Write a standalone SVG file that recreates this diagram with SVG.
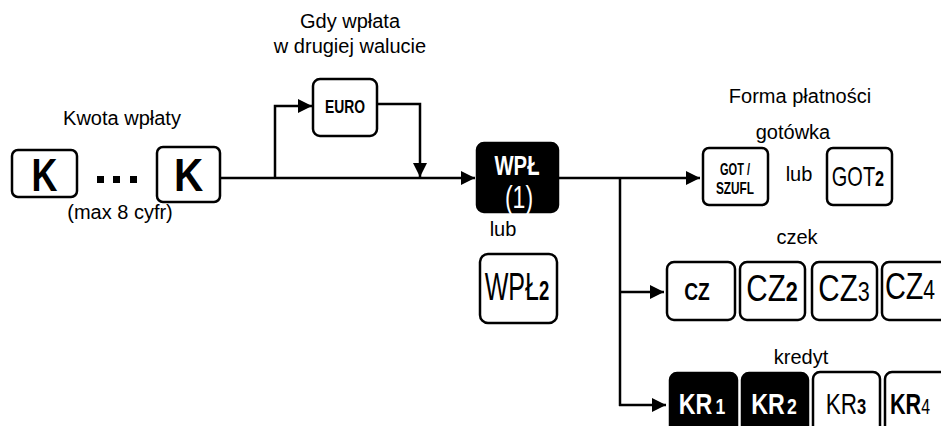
<svg xmlns="http://www.w3.org/2000/svg" width="941" height="426" viewBox="0 0 941 426">
<defs>
<marker id="ah" viewBox="0 0 10 10" refX="10" refY="5" markerWidth="18" markerHeight="14" markerUnits="userSpaceOnUse" orient="auto">
<path d="M0,0 L10,5 L0,10 z" fill="#000"/>
</marker>
<style>
.lbl{font-family:"Liberation Sans",Arial,sans-serif;font-size:20px;fill:#000;text-anchor:middle}
.key{fill:#fff;stroke:#000;stroke-width:2.5}
.keyb{fill:#000;stroke:#000;stroke-width:2.5}
.kt{font-family:"Liberation Sans",Arial,sans-serif;fill:#000;text-anchor:middle}
.kw{font-family:"Liberation Sans",Arial,sans-serif;fill:#fff;text-anchor:middle}
.ln{fill:none;stroke:#000;stroke-width:2.5}
</style>
</defs>
<rect width="941" height="426" fill="#fff"/>

<g id="labels">
<text class="lbl" x="122" y="125">Kwota wpłaty</text>
<text class="lbl" x="120" y="219">(max 8 cyfr)</text>
<text class="lbl" x="350" y="28">Gdy wpłata</text>
<text class="lbl" x="350" y="53">w drugiej walucie</text>
<text class="lbl" x="503" y="236">lub</text>
<text class="lbl" x="800" y="103">Forma płatności</text>
<text class="lbl" x="793" y="139">gotówka</text>
<text class="lbl" x="799" y="181">lub</text>
<text class="lbl" x="797" y="244">czek</text>
<text class="lbl" x="801" y="364">kredyt</text>
</g>

<g id="connectors">
<path class="ln" d="M220,178 H475" marker-end="url(#ah)"/>
<path class="ln" d="M275,179 V106 H312" marker-end="url(#ah)"/>
<path class="ln" d="M377,104 H420 V177" marker-end="url(#ah)"/>
<path class="ln" d="M558,178 H700" marker-end="url(#ah)"/>
<path class="ln" d="M620,177 V406"/>
<path class="ln" d="M619,292 H664" marker-end="url(#ah)"/>
<path class="ln" d="M619,405 H666" marker-end="url(#ah)"/>
</g>

<g id="k1">
<rect class="key" x="12" y="150" width="65" height="47" rx="6"/>
<text class="kt" transform="translate(44.5,191) scale(0.78,1)" font-size="46" font-weight="bold">K</text>
</g>
<g id="dots">
<rect x="97" y="176" width="7" height="7" fill="#000"/>
<rect x="113" y="176" width="7" height="7" fill="#000"/>
<rect x="130" y="176" width="7" height="7" fill="#000"/>
</g>
<g id="k2">
<rect class="key" x="157" y="147" width="63" height="55" rx="6"/>
<text class="kt" transform="translate(188.5,191) scale(0.88,1)" font-size="46" font-weight="bold">K</text>
</g>

<g id="euro">
<rect class="key" x="313" y="79" width="64" height="57" rx="7" stroke-width="2"/>
<text class="kt" transform="translate(345,113) scale(0.77,1)" font-size="18" font-weight="bold">EURO</text>
</g>

<g id="wpl1">
<rect class="keyb" x="477" y="143" width="81" height="69" rx="7"/>
<text class="kw" transform="translate(517,175) scale(0.75,1)" font-size="27" font-weight="bold">WPŁ</text>
<text class="kw" transform="translate(519,208) scale(0.72,1)" font-size="32">(1)</text>
</g>

<g id="wpl2">
<rect class="key" x="480" y="254" width="77" height="69" rx="8"/>
<text class="kt" transform="translate(517,300) scale(0.66,1)" font-size="38">WPŁ<tspan font-size="28" font-weight="bold">2</tspan></text>
</g>

<g id="gotszufl">
<rect class="key" x="703" y="148" width="65" height="57" rx="6" stroke-width="2"/>
<text class="kt" transform="translate(735,175) scale(0.69,1)" font-size="16" font-weight="bold">GOT /</text>
<text class="kt" transform="translate(735,194) scale(0.74,1)" font-size="16" font-weight="bold">SZUFL</text>
</g>

<g id="got2">
<rect class="key" x="827" y="148" width="65" height="57" rx="6" stroke-width="3"/>
<text class="kt" transform="translate(858,186) scale(0.74,1)" font-size="27">GOT<tspan font-size="22" font-weight="bold">2</tspan></text>
</g>

<g id="cz">
<rect class="key" x="667" y="262" width="68" height="58" rx="7"/>
<text class="kt" transform="translate(697,300) scale(0.8,1)" font-size="24" font-weight="bold">CZ</text>
</g>
<g id="cz2">
<rect class="key" x="740" y="262" width="65" height="58" rx="7"/>
<text class="kt" transform="translate(772,301) scale(0.8,1)" font-size="37">CZ<tspan font-size="27" font-weight="bold">2</tspan></text>
</g>
<g id="cz3">
<rect class="key" x="812" y="262" width="65" height="58" rx="7"/>
<text class="kt" transform="translate(844,301) scale(0.8,1)" font-size="37">CZ<tspan font-size="27">3</tspan></text>
</g>
<g id="cz4">
<rect class="key" x="882" y="262" width="70" height="58" rx="7"/>
<text class="kt" transform="translate(910,299) scale(0.78,1)" font-size="37">CZ<tspan font-size="27">4</tspan></text>
</g>

<g id="kr1">
<rect class="keyb" x="670" y="373" width="67" height="70" rx="7"/>
<text class="kw" transform="translate(702,414) scale(0.8,1)" font-size="29" font-weight="bold">KR<tspan dx="4" font-size="22">1</tspan></text>
</g>
<g id="kr2">
<rect class="keyb" x="742" y="373" width="66" height="70" rx="7"/>
<text class="kw" transform="translate(774,414) scale(0.8,1)" font-size="29" font-weight="bold">KR<tspan dx="3" font-size="22">2</tspan></text>
</g>
<g id="kr3">
<rect class="key" x="813" y="372" width="67" height="70" rx="7"/>
<text class="kt" transform="translate(846,414) scale(0.75,1)" font-size="30">KR<tspan font-size="22" font-weight="bold">3</tspan></text>
</g>
<g id="kr4">
<rect class="key" x="885" y="372" width="70" height="70" rx="7"/>
<text class="kt" transform="translate(910,414) scale(0.72,1)" font-size="30" font-weight="bold">KR<tspan font-size="22" font-weight="normal">4</tspan></text>
</g>
</svg>
